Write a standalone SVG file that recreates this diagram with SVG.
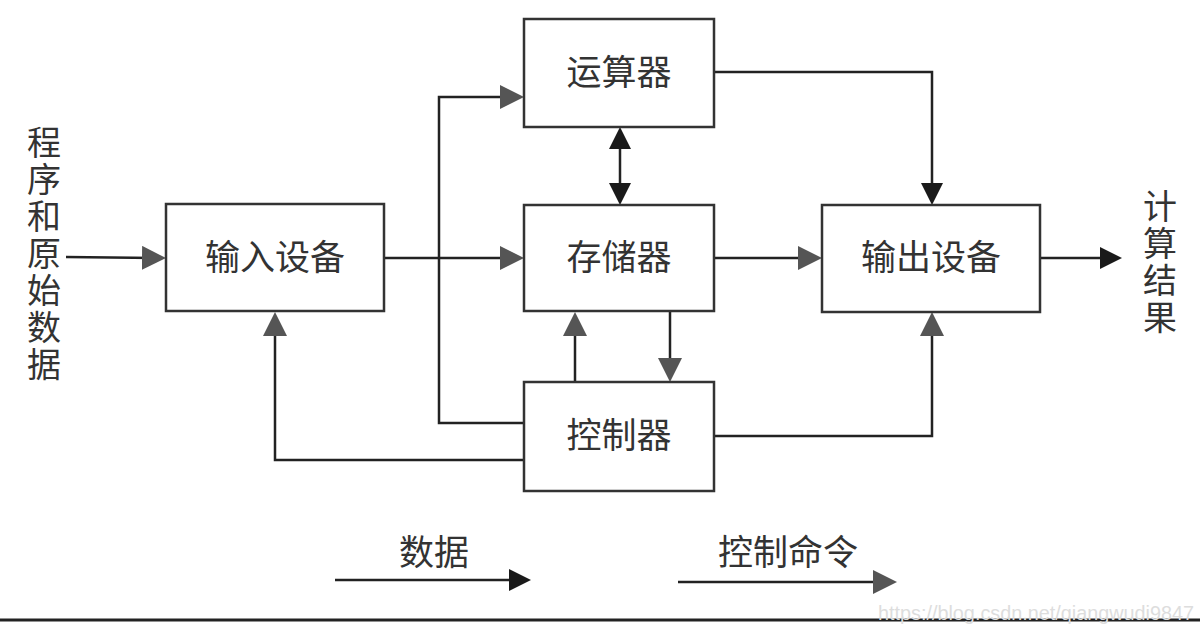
<svg xmlns="http://www.w3.org/2000/svg" width="1200" height="631" viewBox="0 0 1200 631">
<style>
.box{fill:#fff;stroke:#333;stroke-width:2.5}
.lbl{font-family:"Noto Sans CJK SC","Liberation Sans",sans-serif;font-size:35px;fill:#333;text-anchor:middle}
.side{font-family:"Noto Sans CJK SC","Liberation Sans",sans-serif;font-size:34px;fill:#333;writing-mode:vertical-rl;letter-spacing:3px}
.ln{fill:none;stroke:#222;stroke-width:2.5}
.wm{font-family:"Liberation Sans",sans-serif;font-size:20px;fill:#ddd}
</style>
<defs>
<marker id="g" viewBox="0 0 24 24" refX="14" refY="12" markerWidth="24" markerHeight="24" markerUnits="userSpaceOnUse" orient="auto"><path d="M0,0 L24,12 L0,24 z" fill="#555"/></marker>
<marker id="b" viewBox="0 0 22 22" refX="12" refY="11" markerWidth="22" markerHeight="22" markerUnits="userSpaceOnUse" orient="auto-start-reverse"><path d="M0,0 L22,11 L0,22 z" fill="#1a1a1a"/></marker>
</defs>
<rect width="1200" height="631" fill="#fff"/>
<g id="connectors">
<path class="ln" d="M66,257 L156,258" marker-end="url(#g)"/>
<path class="ln" d="M384,258 L514,258" marker-end="url(#g)"/>
<path class="ln" d="M524,423 L439,423 L439,97 L514,97" marker-end="url(#g)"/>
<path class="ln" d="M524,460 L275,460 L275,322" marker-end="url(#g)"/>
<path class="ln" d="M575,382 L575,322" marker-end="url(#g)"/>
<path class="ln" d="M670,311 L670,372" marker-end="url(#g)"/>
<path class="ln" d="M620,137 L620,195" marker-start="url(#b)" marker-end="url(#b)"/>
<path class="ln" d="M714,72 L932,72 L932,195" marker-end="url(#b)"/>
<path class="ln" d="M714,258 L812,258" marker-end="url(#g)"/>
<path class="ln" d="M714,436 L932,436 L932,322" marker-end="url(#g)"/>
<path class="ln" d="M1040,258 L1112,258" marker-end="url(#b)"/>
<path class="ln" d="M335,580 L521,580" marker-end="url(#b)"/>
<path class="ln" d="M678,582 L887,582" marker-end="url(#g)"/>
</g>
<g id="input"><rect class="box" x="166" y="204" width="218" height="107"/><text class="lbl" x="275" y="270">输入设备</text></g>
<g id="alu"><rect class="box" x="524" y="19" width="190" height="108"/><text class="lbl" x="619" y="85">运算器</text></g>
<g id="memory"><rect class="box" x="524" y="205" width="190" height="106"/><text class="lbl" x="619" y="270">存储器</text></g>
<g id="output"><rect class="box" x="822" y="205" width="218" height="107"/><text class="lbl" x="931" y="270">输出设备</text></g>
<g id="control"><rect class="box" x="524" y="382" width="190" height="109"/><text class="lbl" x="619" y="448">控制器</text></g>
<g id="src-label"><text class="side" x="44" y="125">程序和原始数据</text></g>
<g id="result-label"><text class="side" x="1160" y="189">计算结果</text></g>
<g id="legend">
<text class="lbl" x="434" y="565">数据</text>
<text class="lbl" x="788" y="565">控制命令</text>
</g>
<line x1="0" y1="620" x2="1200" y2="620" stroke="#222" stroke-width="3"/>
<text class="wm" x="878" y="620" textLength="316" lengthAdjust="spacingAndGlyphs">https://blog.csdn.net/qiangwudi9847</text>
</svg>
